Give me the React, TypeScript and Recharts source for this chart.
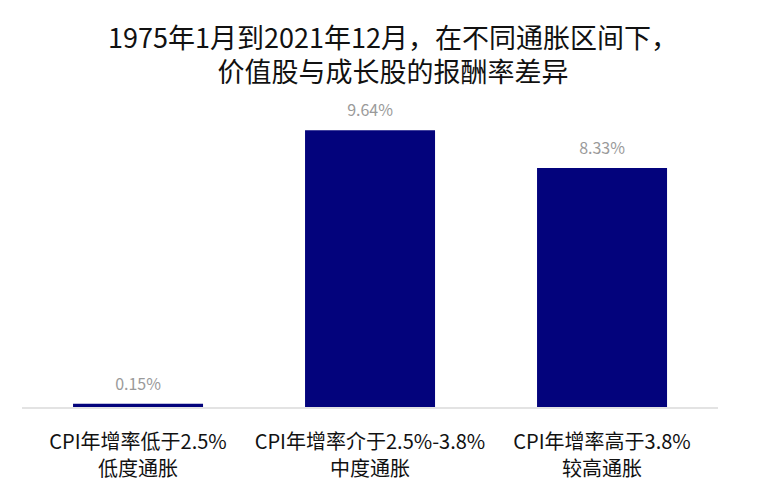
import React from 'react';
import { BarChart, Bar, XAxis, YAxis, LabelList } from 'recharts';

const categories = ['CPI年增率低于2.5%', 'CPI年增率介于2.5%-3.8%', 'CPI年增率高于3.8%'];
const subLabels = ['低度通胀', '中度通胀', '较高通胀'];
const returnGap = [0.15, 9.64, 8.33];

const data = categories.map((name, i) => ({ name, sub: subLabels[i], value: returnGap[i] }));

const FONT = '"Noto Sans CJK SC", "Noto Sans", sans-serif';

const CategoryTick = (props: any) => {
  const { x, y, payload, index } = props;
  return (
    <text x={x} y={y} textAnchor="middle" fill="#111" fontSize={20} fontFamily={FONT}>
      <tspan x={x} dy={33}>{payload.value}</tspan>
      <tspan x={x} dy={27}>{subLabels[index]}</tspan>
    </text>
  );
};

const App = () => {
  return (
    <div style={{ position: 'absolute', left: 0, top: 0, width: 757, height: 502, background: '#fff', fontFamily: FONT }}>
      <div
        style={{
          position: 'absolute',
          left: 0,
          top: 20,
          width: 786,
          textAlign: 'center',
          fontSize: 27,
          lineHeight: '34px',
          fontWeight: 400,
          color: '#111',
        }}
      >
        1975年1月到2021年12月，在不同通胀区间下，
        <br />
        价值股与成长股的报酬率差异
      </div>
      <BarChart
        width={757}
        height={502}
        data={data}
        margin={{ top: 120, right: 39, left: 22, bottom: 34 }}
        barCategoryGap="22%"
      >
        <YAxis hide domain={[0, 10]} />
        <XAxis
          dataKey="name"
          height={60}
          interval={0}
          tickLine={false}
          axisLine={{ stroke: '#e3e3e3', strokeWidth: 2 }}
          tick={<CategoryTick />}
        />
        <Bar dataKey="value" fill="#03037c" isAnimationActive={false}>
          <LabelList
            dataKey="value"
            position="top"
            offset={14}
            formatter={(v: any) => `${Number(v).toFixed(2)}%`}
            style={{ fill: '#9a9a9a', fontSize: 16, fontFamily: FONT }}
          />
        </Bar>
      </BarChart>
    </div>
  );
};

export default App;
